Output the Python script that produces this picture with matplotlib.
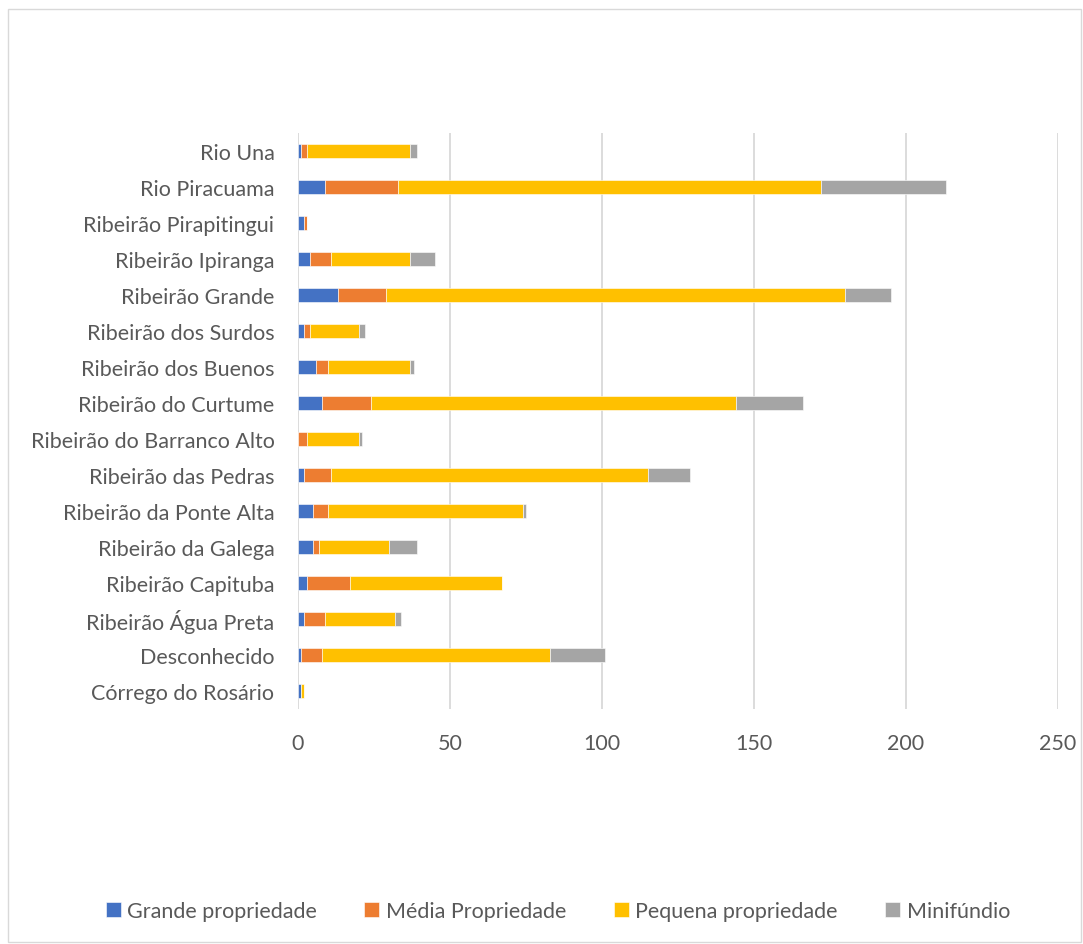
import matplotlib.pyplot as plt
from matplotlib.patches import Rectangle

# categories, bottom to top (as drawn)
categories = ['Córrego do Rosário', 'Desconhecido', 'Ribeirão Água Preta', 'Ribeirão Capituba',
              'Ribeirão da Galega', 'Ribeirão da Ponte Alta', 'Ribeirão das Pedras',
              'Ribeirão do Barranco Alto', 'Ribeirão do Curtume', 'Ribeirão dos Buenos',
              'Ribeirão dos Surdos', 'Ribeirão Grande', 'Ribeirão Ipiranga',
              'Ribeirão Pirapitingui', 'Rio Piracuama', 'Rio Una']
grande = [1, 1, 2, 3, 5, 5, 2, 0, 8, 6, 2, 13, 4, 2, 9, 1]
media = [0, 7, 7, 14, 2, 5, 9, 3, 16, 4, 2, 16, 7, 1, 24, 2]
pequena = [1, 75, 23, 50, 23, 64, 104, 17, 120, 27, 16, 151, 26, 0, 139, 34]
minifundio = [0, 18, 2, 0, 9, 1, 14, 1, 22, 1, 2, 15, 8, 0, 41, 2]
series_names = ['Grande propriedade', 'Média Propriedade', 'Pequena propriedade', 'Minifúndio']
colors = ['#4472C4', '#ED7D31', '#FFC000', '#A5A5A5']
xticks = [0, 50, 100, 150, 200, 250]

plt.rcParams['font.family'] = ['Lato', 'DejaVu Sans']
text_color = '#595959'

fig = plt.figure(figsize=(10.83, 9.45), dpi=100)
ax = fig.add_axes([298 / 1083, 1 - 710 / 945, 760 / 1083, 576 / 945])

y = list(range(len(categories)))
left = [0] * len(categories)
for name, vals, c in zip(series_names, [grande, media, pequena, minifundio], colors):
    ax.barh(y, vals, left=left, height=0.4, color=c, label=name, zorder=3,
            edgecolor='white', linewidth=0.4)
    left = [a + b for a, b in zip(left, vals)]

ax.set_xlim(0, 250)
ax.set_ylim(-0.5, len(categories) - 0.5)
ax.set_xticks(xticks)
ax.set_yticks(y)
ax.set_yticklabels(categories)
ax.xaxis.grid(True, color='#D9D9D9', linewidth=1.3, zorder=0)
ax.tick_params(axis='both', length=0, labelsize=15.5, colors=text_color)
ax.tick_params(axis='x', pad=17)
ax.tick_params(axis='y', pad=17)
for s in ax.spines.values():
    s.set_visible(False)

fig.legend(loc='center', bbox_to_anchor=(0.515, 1 - 912 / 945), ncol=4, frameon=False,
           fontsize=15.5, handlelength=0.7, handleheight=0.7, handletextpad=0.3,
           columnspacing=2.2, labelcolor=text_color)

fig.patches.append(Rectangle((8 / 1083, 0.002), 1073 / 1083, 1 - 10 / 945 - 0.002,
                             transform=fig.transFigure, fill=False,
                             edgecolor='#D9D9D9', linewidth=1))

fig.savefig('out.png', dpi=100)
